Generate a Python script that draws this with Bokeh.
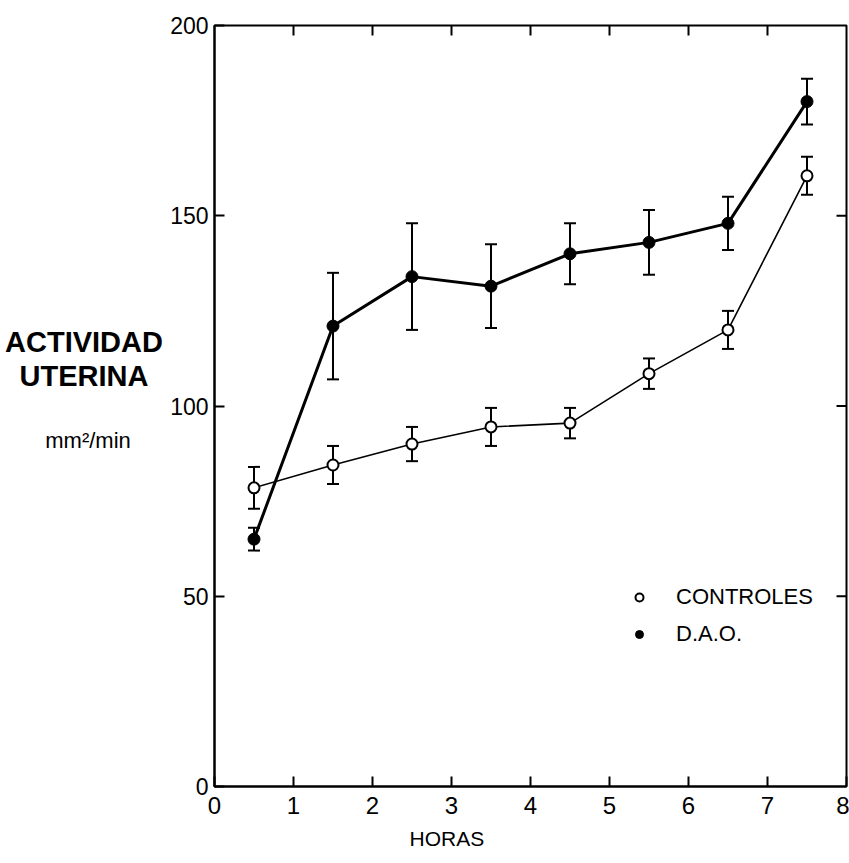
from bokeh.plotting import figure
from bokeh.layouts import row
from bokeh.models import (ColumnDataSource, Whisker, TeeHead, FixedTicker, Legend,
                          LegendItem, Range1d, Title)
from bokeh.core.properties import value
from bokeh.embed import file_html
from bokeh.resources import INLINE

# Uterine activity (mm2/min) over time, mean +/- error
horas = [0.5, 1.5, 2.5, 3.5, 4.5, 5.5, 6.5, 7.5]
controles = [78.5, 84.5, 90.0, 94.5, 95.5, 108.5, 120.0, 160.5]
controles_err = [5.5, 5.0, 4.5, 5.0, 4.0, 4.0, 5.0, 5.0]
dao = [65.0, 121.0, 134.0, 131.5, 140.0, 143.0, 148.0, 180.0]
dao_err = [3.0, 14.0, 14.0, 11.0, 8.0, 8.5, 7.0, 6.0]

x_ticks = [0, 1, 2, 3, 4, 5, 6, 7, 8]
y_ticks = [0, 50, 100, 150, 200]

FONT = "Liberation Sans"
TOP, BOTTOM = 25, 77
TITLE_W = 167
Y_RANGE = Range1d(0, 200)

src_c = ColumnDataSource(dict(
    x=horas, y=controles,
    lower=[v - e for v, e in zip(controles, controles_err)],
    upper=[v + e for v, e in zip(controles, controles_err)]))
src_d = ColumnDataSource(dict(
    x=horas, y=dao,
    lower=[v - e for v, e in zip(dao, dao_err)],
    upper=[v + e for v, e in zip(dao, dao_err)]))

# ---- column holding the vertical-axis title (shares the y scale) ----
t = figure(width=TITLE_W, height=863, x_range=Range1d(0, TITLE_W), y_range=Y_RANGE,
           output_backend="svg", toolbar_location=None,
           min_border_left=0, min_border_right=0, min_border_top=TOP,
           min_border_bottom=BOTTOM, outline_line_color=None)
t.axis.visible = False
t.grid.visible = False
t.text(x=[TITLE_W / 2] * 2, y=[116.9, 107.8], text=["ACTIVIDAD", "UTERINA"],
       text_align="center", text_baseline="middle",
       text_font=value(FONT), text_font_style="bold",
       text_font_size="29px", text_color="black")
t.text(x=[TITLE_W / 2 + 4], y=[90.9], text=["mm²/min"], text_align="center",
       text_baseline="middle", text_font=value(FONT),
       text_font_size="22px", text_color="black")

# ---- main plot ----
p = figure(width=849 - TITLE_W, height=863, x_range=Range1d(0, 8), y_range=Y_RANGE,
           output_backend="svg", toolbar_location=None,
           min_border_left=46, min_border_right=3, min_border_top=TOP,
           min_border_bottom=BOTTOM)
p.grid.visible = False
p.outline_line_color = "black"
p.outline_line_width = 2

xa = p.xaxis[0]
xa.ticker = FixedTicker(ticks=x_ticks)
xa.major_tick_in = 10
xa.major_tick_out = 0
xa.minor_tick_line_color = None
xa.axis_line_width = 2
xa.major_tick_line_width = 2
xa.major_label_text_font = FONT
xa.major_label_text_font_size = "24px"
xa.major_label_text_color = "black"
xa.major_label_standoff = 10

ya = p.yaxis[0]
ya.ticker = FixedTicker(ticks=y_ticks)
ya.major_tick_in = 10
ya.major_tick_out = 0
ya.minor_tick_line_color = None
ya.axis_line_width = 2
ya.major_tick_line_width = 2
ya.major_label_text_font = FONT
ya.major_label_text_font_size = "23px"
ya.major_label_text_color = "black"
ya.major_label_standoff = 6

# horizontal-axis title, set a little left of centre
p.add_layout(Title(text="HORAS", align="left", offset=195, standoff=16,
                   text_font=FONT, text_font_style="normal",
                   text_font_size="21px", text_color="black"), "below")

# inward ticks along the top and right edges
tick_dx = 8 / 633 * 10      # 10 px in x data units
tick_dy = 200 / 761 * 10    # 10 px in y data units
inner_x = x_ticks[1:-1]
inner_y = y_ticks[1:-1]
p.segment(x0=inner_x, y0=[200] * len(inner_x), x1=inner_x,
          y1=[200 - tick_dy] * len(inner_x), line_color="black", line_width=2)
p.segment(x0=[8] * len(inner_y), y0=inner_y, x1=[8 - tick_dx] * len(inner_y),
          y1=inner_y, line_color="black", line_width=2)

# error bars
for src in (src_c, src_d):
    p.add_layout(Whisker(source=src, base="x", upper="upper", lower="lower",
                         line_color="black", line_width=2,
                         upper_head=TeeHead(size=12, line_width=2, line_color="black"),
                         lower_head=TeeHead(size=12, line_width=2, line_color="black")))

p.line("x", "y", source=src_c, line_color="black", line_width=1.6)
p.line("x", "y", source=src_d, line_color="black", line_width=3)

r_c = p.scatter("x", "y", source=src_c, marker="circle", size=11,
                fill_color="white", line_color="black", line_width=2)
r_d = p.scatter("x", "y", source=src_d, marker="circle", size=12,
                fill_color="black", line_color="black", line_width=1)

legend = Legend(items=[LegendItem(label="CONTROLES", renderers=[r_c]),
                       LegendItem(label="D.A.O.", renderers=[r_d])],
                location=(415, 139), border_line_color=None,
                background_fill_alpha=0, padding=0, margin=0, spacing=11,
                glyph_width=20, glyph_height=20, label_height=20,
                label_standoff=27, label_text_font=FONT,
                label_text_font_size="22px", label_text_color="black")
p.add_layout(legend, "center")

open("out.html", "w").write(file_html(row(t, p), INLINE))
